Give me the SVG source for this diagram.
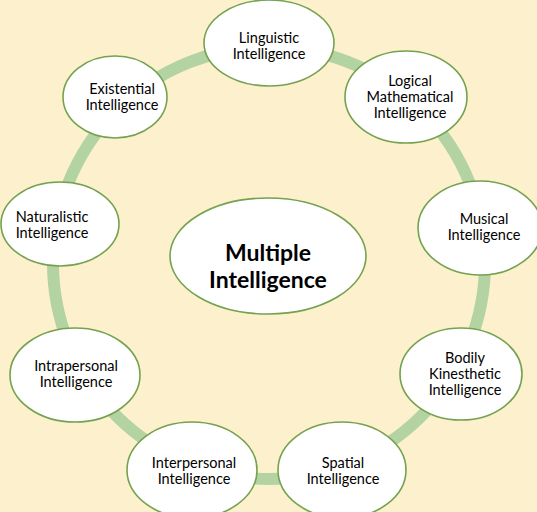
<svg xmlns="http://www.w3.org/2000/svg" width="537" height="512" viewBox="0 0 537 512">
<style>
.n ellipse{fill:#ffffff;stroke:#74a24f;stroke-width:1.6}
.n text{font-family:Lato,"Open Sans","Liberation Sans",sans-serif;font-size:14.5px;fill:#000;text-anchor:middle}
.c text{font-size:23px;font-weight:bold}
</style>
<rect width="537" height="512" fill="#fdf0cd"/>
<g id="connectors">
<circle cx="269" cy="263" r="216" fill="none" stroke="#b3d3a2" stroke-width="12"/>
</g>
<g id="center" class="n c">
<ellipse cx="268" cy="256" rx="98" ry="58"/>
<text x="268" y="261">Multiple</text>
<text x="268" y="288">Intelligence</text>
</g>
<g id="linguistic" class="n">
<ellipse cx="269" cy="43" rx="65" ry="43"/>
<text x="269" y="43">Linguistic</text>
<text x="269" y="59">Intelligence</text>
</g>
<g id="existential" class="n">
<ellipse cx="115" cy="97" rx="52" ry="41"/>
<text x="122" y="94">Existential</text>
<text x="122" y="110">Intelligence</text>
</g>
<g id="logical" class="n">
<ellipse cx="406" cy="97" rx="61" ry="46"/>
<text x="410" y="86">Logical</text>
<text x="410" y="102">Mathematical</text>
<text x="410" y="118">Intelligence</text>
</g>
<g id="musical" class="n">
<ellipse cx="480" cy="228" rx="62" ry="47"/>
<text x="484" y="224">Musical</text>
<text x="484" y="240">Intelligence</text>
</g>
<g id="naturalistic" class="n">
<ellipse cx="60" cy="224" rx="59" ry="42"/>
<text x="52" y="222">Naturalistic</text>
<text x="52" y="238">Intelligence</text>
</g>
<g id="intrapersonal" class="n">
<ellipse cx="75" cy="375" rx="65" ry="47"/>
<text x="76" y="371">Intrapersonal</text>
<text x="76" y="387">Intelligence</text>
</g>
<g id="bodily" class="n">
<ellipse cx="461" cy="374" rx="61" ry="46"/>
<text x="465" y="363">Bodily</text>
<text x="465" y="379">Kinesthetic</text>
<text x="465" y="395">Intelligence</text>
</g>
<g id="interpersonal" class="n">
<ellipse cx="192" cy="470" rx="65" ry="48"/>
<text x="194" y="468">Interpersonal</text>
<text x="194" y="484">Intelligence</text>
</g>
<g id="spatial" class="n">
<ellipse cx="342" cy="470" rx="64" ry="48"/>
<text x="343" y="468">Spatial</text>
<text x="343" y="484">Intelligence</text>
</g>
</svg>
